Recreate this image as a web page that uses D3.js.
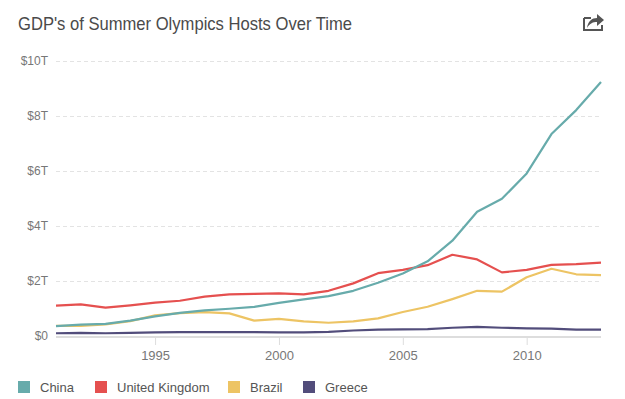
<!DOCTYPE html>
<html>
<head>
<meta charset="utf-8">
<script src="https://cdn.jsdelivr.net/npm/d3@7"></script>
<style>
  body { margin: 0; background: #fff; font-family: "Liberation Sans", Arial, sans-serif; }
  .grid line { stroke: #e3e3e3; stroke-dasharray: 4,3; }
  .axis text { fill: #777; font-size: 12px; }
</style>
</head>
<body>
<div id="main"></div>
<script>
var years = d3.range(1991, 2014);
var china = [0.36, 0.41, 0.44, 0.56, 0.71, 0.84, 0.93, 0.99, 1.06, 1.20, 1.33, 1.45, 1.64, 1.93, 2.27, 2.71, 3.46, 4.51, 4.98, 5.90, 7.33, 8.20, 9.22];
var uk = [1.10, 1.15, 1.03, 1.11, 1.21, 1.28, 1.43, 1.51, 1.53, 1.55, 1.51, 1.64, 1.91, 2.28, 2.40, 2.57, 2.95, 2.78, 2.31, 2.40, 2.58, 2.61, 2.66];
var brazil = [0.37, 0.37, 0.42, 0.54, 0.75, 0.83, 0.87, 0.82, 0.56, 0.62, 0.53, 0.48, 0.53, 0.64, 0.87, 1.06, 1.34, 1.64, 1.61, 2.13, 2.44, 2.24, 2.21];
var greece = [0.10, 0.11, 0.10, 0.11, 0.13, 0.14, 0.14, 0.14, 0.14, 0.13, 0.13, 0.15, 0.20, 0.23, 0.24, 0.25, 0.30, 0.33, 0.30, 0.28, 0.27, 0.23, 0.23];
var seriesNames = ["China", "United Kingdom", "Brazil", "Greece"];
var seriesColors = ["#67abab", "#e5504f", "#edc464", "#524d7b"];
var yTicks = [0, 2, 4, 6, 8, 10];
var xTicks = [1995, 2000, 2005, 2010];

var width = 625, height = 399;
var svg = d3.select("#main").append("svg")
    .attr("width", width)
    .attr("height", height);

var x = d3.scaleLinear().domain([1991, 2013]).range([56, 601]);
var y = d3.scaleLinear().domain([0, 10]).range([336, 60.5]);

// title
svg.append("text")
    .attr("x", 18)
    .attr("y", 30)
    .attr("textLength", 334)
    .attr("lengthAdjust", "spacingAndGlyphs")
    .style("font-size", "18.5px")
    .style("fill", "#4a4a4a")
    .text("GDP's of Summer Olympics Hosts Over Time");

// share icon
var icon = svg.append("g").attr("transform", "translate(583,12)");
icon.append("path")
    .attr("d", "M1,6 H8 M1,6 V18 H19 V13")
    .attr("fill", "none")
    .attr("stroke", "#555")
    .attr("stroke-width", 2);
icon.append("path")
    .attr("d", "M4,16 C5,9 9,6 14,6 V2 L21,8 L14,14 V10 C10,10 7,11 4,16 Z")
    .attr("fill", "#555");

// gridlines
svg.append("g")
    .attr("class", "grid")
    .selectAll("line")
    .data(yTicks.filter(function(d) { return d > 0; }))
    .enter().append("line")
    .attr("x1", 56)
    .attr("x2", 601)
    .attr("y1", function(d) { return Math.round(y(d)) + 0.5; })
    .attr("y2", function(d) { return Math.round(y(d)) + 0.5; });

// y labels
svg.append("g")
    .attr("class", "axis")
    .selectAll("text")
    .data(yTicks)
    .enter().append("text")
    .attr("x", 48)
    .attr("y", function(d) { return y(d) + 4; })
    .attr("text-anchor", "end")
    .text(function(d) { return d === 0 ? "$0" : "$" + d + "T"; });

// x axis
var xAxis = svg.append("g")
    .attr("class", "axis")
    .attr("transform", "translate(0,338)")
    .call(d3.axisBottom(x).tickValues(xTicks).tickFormat(d3.format("d")).tickSize(7).tickPadding(6));
xAxis.select(".domain").remove();
xAxis.selectAll(".tick line").attr("stroke", "#ddd");
xAxis.selectAll(".tick text").style("font-size", "13px").attr("fill", "#777");

// baseline
svg.append("line")
    .attr("x1", 56)
    .attr("x2", 601)
    .attr("y1", 337)
    .attr("y2", 337)
    .attr("stroke", "#ddd")
    .attr("stroke-width", 2);

// lines
var allSeries = [china, uk, brazil, greece];
var line = d3.line()
    .x(function(d, i) { return x(years[i]); })
    .y(function(d) { return y(d); });

svg.append("g")
    .selectAll("path")
    .data(allSeries.slice().reverse())
    .enter().append("path")
    .attr("d", line)
    .attr("fill", "none")
    .attr("stroke", function(d, i) { return seriesColors[3 - i]; })
    .attr("stroke-width", 2.2)
    .attr("stroke-linejoin", "round");

// legend
var legendX = [18, 95, 228, 303];
var legend = svg.append("g")
    .selectAll("g")
    .data(seriesNames)
    .enter().append("g")
    .attr("transform", function(d, i) { return "translate(" + legendX[i] + ",381)"; });
legend.append("rect")
    .attr("width", 12)
    .attr("height", 12)
    .attr("fill", function(d, i) { return seriesColors[i]; });
legend.append("text")
    .attr("x", 22)
    .attr("y", 11)
    .style("font-size", "13px")
    .style("fill", "#555")
    .text(function(d) { return d; });
</script>
</body>
</html>
